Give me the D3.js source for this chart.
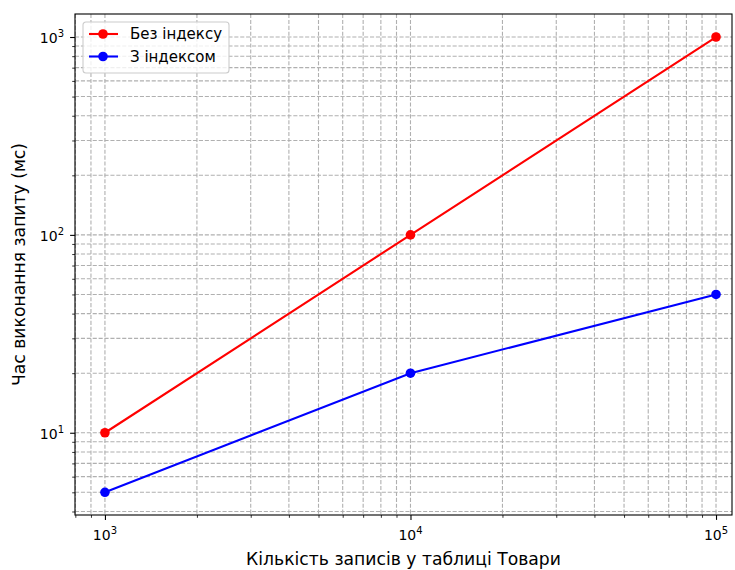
<!DOCTYPE html>
<html>
<head>
<meta charset="utf-8">
<script src="https://cdn.jsdelivr.net/npm/d3@7"></script>
<style>
  html, body { margin: 0; padding: 0; background: #fff; }
  svg { display: block; }
  text { font-family: "DejaVu Sans", sans-serif; }
</style>
</head>
<body>
<script>
// Table sizes (records) and query times (ms)
const recordCounts = [1000, 10000, 100000];
const timeNoIndex = [10, 100, 1000];
const timeWithIndex = [5, 20, 50];
const seriesNames = ["Без індексу", "З індексом"];
const seriesColors = ["#ff0000", "#0000ff"];
const xTickPowers = [3, 4, 5];
const yTickPowers = [1, 2, 3];
const xTitle = "Кількість записів у таблиці Товари";
const yTitle = "Час виконання запиту (мс)";

const W = 735, H = 570;
const margin = { left: 75, right: 3, top: 14, bottom: 55 };
const iw = W - margin.left - margin.right;
const ih = H - margin.top - margin.bottom;

const svg = d3.select("body").append("svg").attr("width", W).attr("height", H);
const g = svg.append("g").attr("transform", `translate(${margin.left},${margin.top})`);

const x = d3.scaleLog().domain([798, 112800]).range([0, iw]);
const y = d3.scaleLog().domain([3.84, 1307]).range([ih, 0]);

// major and minor tick values on each log axis
function logTicks(scale) {
  const [a, b] = scale.domain();
  const major = [], minor = [];
  for (let p = Math.floor(Math.log10(a)); p <= Math.ceil(Math.log10(b)); p++) {
    for (let m = 1; m <= 9; m++) {
      const v = m * Math.pow(10, p);
      if (v < a || v > b) continue;
      (m === 1 ? major : minor).push(v);
    }
  }
  return { major, minor };
}
const xt = logTicks(x), yt = logTicks(y);

// dashed grid for both major and minor ticks
const grid = g.append("g").attr("stroke", "#b0b0b0").attr("stroke-width", 1.1)
  .attr("stroke-dasharray", "4.1,1.8").attr("fill", "none");
[...xt.major, ...xt.minor].forEach(v => {
  grid.append("line").attr("x1", x(v)).attr("x2", x(v)).attr("y1", 0).attr("y2", ih);
});
[...yt.major, ...yt.minor].forEach(v => {
  grid.append("line").attr("x1", 0).attr("x2", iw).attr("y1", y(v)).attr("y2", y(v));
});

const xAxis = g.append("g").attr("transform", `translate(0,${ih})`)
  .call(d3.axisBottom(x).tickValues(xTickPowers.map(p => Math.pow(10, p)))
    .tickFormat("").tickSizeInner(4.9).tickSizeOuter(0));
const xMinor = g.append("g").attr("transform", `translate(0,${ih})`)
  .call(d3.axisBottom(x).tickValues(xt.minor).tickFormat("").tickSizeInner(2.8).tickSizeOuter(0));
const yAxis = g.append("g")
  .call(d3.axisLeft(y).tickValues(yTickPowers.map(p => Math.pow(10, p)))
    .tickFormat("").tickSizeInner(4.9).tickSizeOuter(0));
const yMinor = g.append("g")
  .call(d3.axisLeft(y).tickValues(yt.minor).tickFormat("").tickSizeInner(2.8).tickSizeOuter(0));

[xAxis, yAxis].forEach(a => {
  a.selectAll(".tick line").attr("stroke", "#000").attr("stroke-width", 1.1);
  a.select(".domain").remove();
});
[xMinor, yMinor].forEach(a => {
  a.selectAll(".tick line").attr("stroke", "#000").attr("stroke-width", 0.8);
  a.select(".domain").remove();
});

// power-of-ten labels with raised exponent
function powLabel(sel, p) {
  sel.append("tspan").attr("font-size", 14).text("10");
  sel.append("tspan").attr("font-size", 10).attr("dy", -6).text(String(p));
}
xTickPowers.forEach(p => {
  const t = g.append("text").attr("x", x(Math.pow(10, p))).attr("y", ih + 25)
    .attr("text-anchor", "middle").attr("fill", "#000");
  powLabel(t, p);
});
yTickPowers.forEach(p => {
  const t = g.append("text").attr("x", -11).attr("y", y(Math.pow(10, p)) + 6)
    .attr("text-anchor", "end").attr("fill", "#000");
  powLabel(t, p);
});

// frame
g.append("rect").attr("x", 0).attr("y", 0).attr("width", iw).attr("height", ih)
  .attr("fill", "none").attr("stroke", "#000").attr("stroke-width", 1.1);

// series
const series = [timeNoIndex, timeWithIndex];
const line = d3.line().x(d => x(d[0])).y(d => y(d[1]));
series.forEach((vals, i) => {
  const pts = recordCounts.map((c, j) => [c, vals[j]]);
  g.append("path").datum(pts).attr("d", line).attr("fill", "none")
    .attr("stroke", seriesColors[i]).attr("stroke-width", 2.1);
  g.selectAll(null).data(pts).enter().append("circle")
    .attr("cx", d => x(d[0])).attr("cy", d => y(d[1])).attr("r", 4.8)
    .attr("fill", seriesColors[i]);
});

// legend
const lg = g.append("g").attr("transform", "translate(8,8)");
lg.append("rect").attr("x", 0).attr("y", 0).attr("width", 146).attr("height", 51)
  .attr("rx", 3).attr("fill", "#fff").attr("fill-opacity", 0.8)
  .attr("stroke", "#cccccc").attr("stroke-width", 1.1);
seriesNames.forEach((name, i) => {
  const cy = 12 + i * 22.5;
  lg.append("line").attr("x1", 6).attr("x2", 35).attr("y1", cy).attr("y2", cy)
    .attr("stroke", seriesColors[i]).attr("stroke-width", 2.1);
  lg.append("circle").attr("cx", 20).attr("cy", cy).attr("r", 4.8).attr("fill", seriesColors[i]);
  lg.append("text").attr("x", 47).attr("y", cy).attr("dy", "0.35em")
    .attr("font-size", 15).attr("fill", "#000").text(name);
});

// axis titles
svg.append("text").attr("x", margin.left + iw / 2).attr("y", H - 5)
  .attr("text-anchor", "middle").attr("font-size", 17.2).attr("fill", "#000").text(xTitle);
svg.append("text").attr("transform", `translate(25,${margin.top + ih / 2}) rotate(-90)`)
  .attr("text-anchor", "middle").attr("font-size", 17.2).attr("fill", "#000").text(yTitle);
</script>
</body>
</html>
